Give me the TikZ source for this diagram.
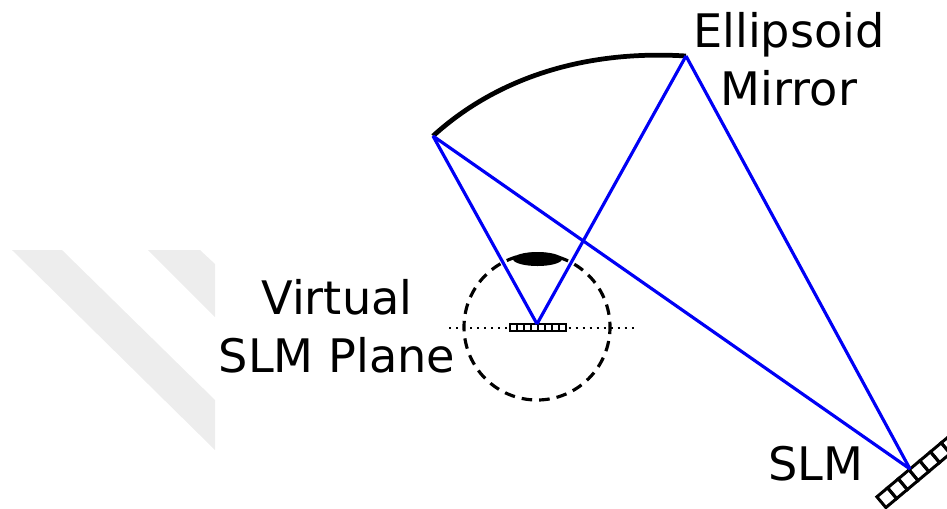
\documentclass[tikz,border=0pt]{standalone}
\usepackage{fontspec}
\setmainfont{DejaVu Sans}
\usepackage{xcolor}
\definecolor{rayBlue}{HTML}{0000F5}
\definecolor{markGray}{HTML}{EDEDED}
\usetikzlibrary{positioning,shapes.geometric}

\begin{document}
\begin{tikzpicture}[
    x=0.2mm, y=-0.2mm,
    lbl/.style={font=\fontsize{26.3}{33.2}\selectfont, align=center, inner sep=0pt},
    ray/.style={draw=rayBlue, line width=1.8pt},
    mirror/.style={draw=black, line width=2.7pt},
    pupil/.style={draw=black, line width=1.8pt, dash pattern=on 6pt off 4pt, dash phase=3pt},
    planeline/.style={line width=1.2pt, dash pattern=on 1.2pt off 2.8pt},
    cell/.style={draw=black, line width=1.7pt, inner sep=0pt, minimum size=0.28cm},
    vcell/.style={draw=black, line width=1.1pt, inner sep=0pt, minimum size=0.14cm}
  ]
    \clip (0,0) rectangle (947,508);
    % background mark
    \fill[markGray] (12,250) -- (62,250) -- (215,400) -- (215,450) -- cycle;
    \fill[markGray] (148,250) -- (200,250) -- (215,264) -- (215,317) -- cycle;

    \coordinate (mirrorL) at (433,136);
    \coordinate (mirrorR) at (686,56);
    \coordinate (focusV) at (537,324);
    \coordinate (focusS) at (910,469);
    \coordinate (planeL) at (449,328);
    \coordinate (planeR) at (634,328);

    \node[circle, pupil, minimum size=2.92cm, inner sep=0pt] (eye) at (537,327) {};
    \draw[planeline] (planeL) -- (planeR);
    \node[ellipse, fill=black, minimum width=0.98cm, minimum height=0.28cm, inner sep=0pt] (lens) at (537.5,259) {};

    % virtual slm
    \foreach \i in {0,...,7}
      \node[vcell, fill=white] (v\i) at (513.5+7*\i,327.5) {};

    % real slm
    \begin{scope}[shift={(focusS)}, rotate=40]
      \foreach \i in {0,...,7}
        \node[cell, rotate=40] (s\i) at (-36.25+14*\i,7) {};
    \end{scope}

    \draw[mirror] (mirrorL) .. controls (500,75) and (590,50) .. (mirrorR);
    \draw[ray] (mirrorL) -- (focusV);
    \draw[ray] (focusV) -- (mirrorR);
    \draw[ray] (mirrorR) -- (focusS);
    \draw[ray] (focusS) -- (mirrorL);

    \node[lbl] (mirrorlbl) at (789,59.5) {Ellipsoid\\Mirror};
    \node[lbl] (planelbl) at (337,326) {Virtual\\SLM Plane};
    \node[lbl] (slmlbl) at (816,464) {SLM};
  \end{tikzpicture}
\end{document}
